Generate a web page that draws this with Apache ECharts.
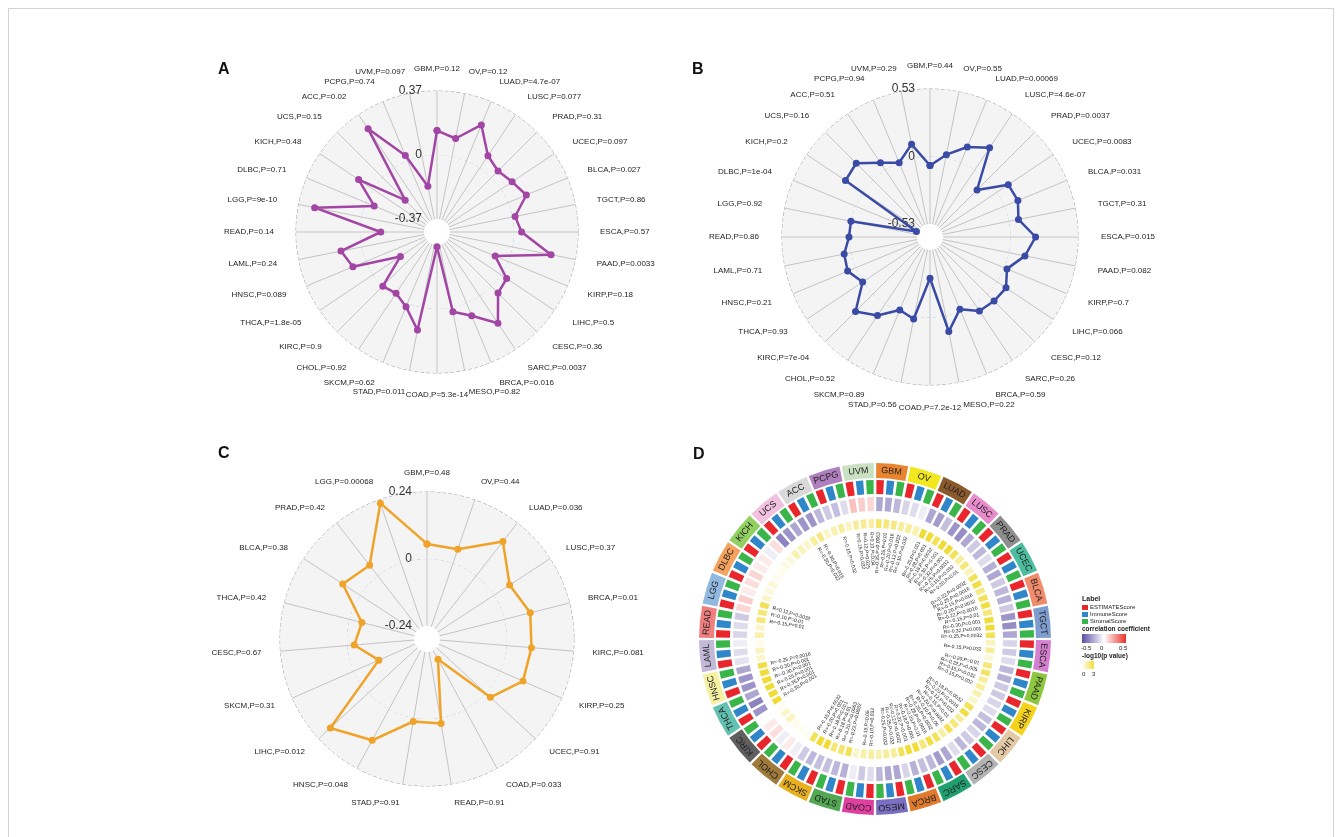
<!DOCTYPE html>
<html>
<head>
<meta charset="utf-8">
<script src="https://cdn.jsdelivr.net/npm/echarts@6/dist/echarts.min.js"></script>
<style>
  html, body { margin: 0; padding: 0; background: #fff; }
  #frame { position: absolute; left: 8px; top: 8px; width: 1326px; height: 860px; border: 1px solid #d4d4d4; box-sizing: border-box; }
  #main { position: absolute; left: 0; top: 0; width: 1342px; height: 837px; }
</style>
</head>
<body>
<div id="frame"></div>
<div id="main"></div>
<script>
// ---- panel A / B : 32 cancer types, same order ----
const abNames = ['GBM', 'OV', 'LUAD', 'LUSC', 'PRAD', 'UCEC', 'BLCA', 'TGCT', 'ESCA', 'PAAD', 'KIRP', 'LIHC', 'CESC', 'SARC', 'BRCA', 'MESO',
  'COAD', 'STAD', 'SKCM', 'CHOL', 'KIRC', 'THCA', 'HNSC', 'LAML', 'READ', 'LGG', 'DLBC', 'KICH', 'UCS', 'ACC', 'PCPG', 'UVM'];

const aP = ['0.12', '0.12', '4.7e-07', '0.077', '0.31', '0.097', '0.027', '0.86', '0.57', '0.0033', '0.18', '0.5', '0.36', '0.0037', '0.016', '0.82',
  '5.3e-14', '0.011', '0.62', '0.92', '0.9', '1.8e-05', '0.089', '0.24', '0.14', '9e-10', '0.71', '0.48', '0.15', '0.02', '0.74', '0.097'];
const aR = [0.141, 0.106, 0.225, 0.085, 0.054, 0.077, 0.114, 0.015, 0.044, 0.227, -0.081, 0.039, 0.054, 0.189, 0.079, 0.025,
  -0.36, 0.133, 0.023, -0.019, -0.002, -0.191, 0.081, 0.121, -0.12, 0.276, -0.052, 0.100, -0.185, 0.272, 0.033, -0.175];
const aMax = 0.37;

const bP = ['0.44', '0.55', '0.00069', '4.6e-07', '0.0037', '0.0083', '0.031', '0.31', '0.015', '0.082', '0.7', '0.066', '0.12', '0.26', '0.59', '0.22',
  '7.2e-12', '0.56', '0.89', '0.52', '7e-04', '0.93', '0.21', '0.71', '0.86', '0.92', '1e-04', '0.2', '0.16', '0.51', '0.94', '0.29'];
const bR = [-0.071, 0.027, 0.133, 0.210, -0.11, 0.107, 0.115, 0.076, 0.197, 0.128, 0.022, 0.086, 0.079, 0.066, -0.019, 0.125,
  -0.308, 0.025, -0.012, 0.110, 0.195, 0.004, 0.068, 0.055, 0.004, 0.001, -0.517, 0.166, 0.187, 0.068, 0.0, 0.110];
const bMax = 0.53;

// ---- panel C : 19 cancer types ----
const cNames = ['GBM', 'OV', 'LUAD', 'LUSC', 'BRCA', 'KIRC', 'KIRP', 'UCEC', 'COAD', 'READ', 'STAD', 'HNSC', 'LIHC', 'SKCM', 'CESC', 'THCA', 'BLCA', 'PRAD', 'LGG'];
const cP = ['0.48', '0.44', '0.036', '0.37', '0.01', '0.081', '0.25', '0.91', '0.033', '0.91', '0.91', '0.048', '0.012', '0.31', '0.67', '0.42', '0.38', '0.42', '0.00068'];
const cR = [0.054, 0.053, 0.156, 0.067, 0.095, 0.089, 0.089, 0.022, -0.204, 0.020, 0.013, 0.126, 0.184, -0.098, -0.025, -0.046, 0.074, 0.048, 0.228];
const cMax = 0.24;

// ---- panel D : circular heatmap ----
const dTypes = abNames;
const dTypeColors = ['#e8852e', '#f1e81f', '#8a5a2c', '#e98ccb', '#8e8e8e', '#4dbd9f', '#f08b6b', '#7f9ccf', '#d47fcf', '#8dc63f', '#f5d21b', '#e3c9a6',
  '#b3b3b3', '#1fa06f', '#e07a2f', '#7a6fc0', '#e03fa0', '#52a852', '#e8b01f', '#a07a3b', '#5f5f5f', '#62c1b0', '#f5f0a2', '#c2b9d9',
  '#f08080', '#92b9e0', '#f6a25f', '#92d062', '#f1c1df', '#d9d9d9', '#b07fc0', '#c9e1c0'];
const dScores = ['ESTIMATEScore', 'ImmuneScore', 'StromalScore'];
const dScoreColors = ['#e8262b', '#2f87c9', '#39b54a'];
const dCorrEstimate = [-0.25, -0.12, -0.25, -0.30, -0.15, -0.22, -0.20, -0.30, -0.12, -0.20, -0.15, -0.18, -0.15, -0.25, -0.18, -0.25,
  -0.10, -0.22, -0.18, -0.05, 0.08, -0.30, -0.30, -0.08, -0.12, 0.10, 0.08, 0.05, -0.35, -0.30, -0.15, 0.15];
const dCorrImmune = [-0.25, -0.10, -0.28, -0.32, -0.20, -0.25, -0.22, -0.32, -0.15, -0.22, -0.12, -0.20, -0.20, -0.28, -0.22, -0.25,
  -0.15, -0.20, -0.20, 0.05, 0.05, -0.35, -0.30, -0.10, -0.10, 0.12, 0.10, -0.05, -0.30, -0.30, -0.18, 0.12];
const dCorrStromal = [-0.20, -0.05, -0.18, -0.25, -0.10, -0.15, -0.15, -0.25, -0.10, -0.15, -0.10, -0.12, -0.10, -0.20, -0.12, -0.20,
  -0.05, -0.18, -0.15, -0.05, 0.00, -0.25, -0.25, -0.05, -0.15, 0.05, 0.05, 0.08, -0.25, -0.20, -0.10, 0.10];
const dLogPEstimate = [2.2, 1.5, 3, 3, 1.5, 2.5, 2.5, 3, 1.0, 2.0, 1.5, 2.5, 2.0, 2.5, 3, 1.5, 1.5, 2.5, 3, 0.2, 1.0, 3, 3, 0.8, 1.2, 2.0, 0.5, 0.3, 1.2, 1.5, 1.2, 1.5];
const dLogPImmune = [2.0, 1.5, 3, 3, 2.0, 2.8, 2.8, 3, 1.5, 2.3, 1.2, 2.8, 2.5, 2.8, 3, 1.5, 1.3, 2.2, 3, 0.2, 0.8, 3, 3, 1.0, 0.8, 2.5, 0.6, 0.4, 1.0, 1.8, 1.5, 1.6];
const dLogPStromal = [1.8, 1.2, 2.5, 2.5, 1.0, 1.8, 2.0, 2.5, 0.6, 1.5, 0.8, 1.5, 1.3, 2.0, 2.5, 1.2, 0.8, 2.0, 2.5, 0.3, 0.2, 3, 2.8, 0.3, 2.0, 0.8, 0.3, 0.5, 0.8, 0.8, 0.9, 1.4];

const corrTicks = ['-0.5', '0', '0.5'];
const logPTicks = ['0', '3'];

// ---------------------------------------------------------------
function mix(c1, c2, t) {
  const a = parseInt(c1.slice(1), 16), b = parseInt(c2.slice(1), 16);
  const ch = s => Math.round(((a >> s) & 255) * (1 - t) + ((b >> s) & 255) * t);
  return 'rgb(' + ch(16) + ',' + ch(8) + ',' + ch(0) + ')';
}
function corrColor(r) {
  const t = Math.max(-1, Math.min(1, r / 0.5));
  return t < 0 ? mix('#ffffff', '#5b4ea5', -t) : mix('#ffffff', '#e8322a', t);
}
function logPColor(lp) { return mix('#ffffff', '#f0dc35', Math.min(lp / 3, 1)); }
function fmtP(lp) { return String(parseFloat(Math.pow(10, -lp).toPrecision(2))); }

const polar = [], angleAxis = [], radiusAxis = [], series = [];

function addRadar(names, pvals, values, maxR, center, radius, color, margin) {
  const idx = polar.length;
  const n = names.length;
  polar.push({ center, radius });
  angleAxis.push({
    polarIndex: idx, type: 'value', min: 0, max: n, interval: 1, startAngle: 90, clockwise: true,
    axisLine: { show: false }, axisTick: { show: false }, axisLabel: { show: false },
    splitLine: { show: true, lineStyle: { color: '#c4c4c4', width: 1 } }
  });
  radiusAxis.push({
    polarIndex: idx, type: 'value', min: -maxR, max: maxR, interval: maxR,
    axisLine: { show: false }, axisTick: { show: false },
    axisLabel: { margin: 15, fontSize: 12, color: '#333', fontFamily: 'Liberation Sans', formatter: v => (Math.abs(v) < 1e-9 ? '0' : v.toFixed(2)) },
    splitLine: { show: true, lineStyle: { type: 'dashed', width: 1, color: ['rgba(0,0,0,0)', '#4a96a5', '#a5a5a5'] } },
    splitArea: { show: true, areaStyle: { color: ['#f4f4f4', '#f4f4f4'] } }
  });
  series.push({
    type: 'line', coordinateSystem: 'polar', polarIndex: idx,
    data: values.map((v, k) => [v, k]).concat([[values[0], n]]),
    symbol: 'circle', symbolSize: 7, showAllSymbol: true,
    lineStyle: { width: 2.5, color }, itemStyle: { color }, z: 5
  });
  // category labels: placed just outside the outer ring, aligned by side
  series.push({
    type: 'custom', coordinateSystem: 'polar', polarIndex: idx, silent: true,
    data: names.map((nm, k) => [maxR, k]),
    renderItem: (params, api) => {
      const p = api.coord([api.value(0), api.value(1)]);
      const cs = params.coordSys;
      const dx = p[0] - cs.cx, dy = p[1] - cs.cy;
      const len = Math.sqrt(dx * dx + dy * dy);
      const k = params.dataIndex;
      return {
        type: 'text',
        x: cs.cx + dx / len * (len + margin), y: cs.cy + dy / len * (len + margin),
        style: {
          text: names[k] + ',P=' + pvals[k], fontSize: 8, fill: '#1e1e1e', fontFamily: 'Liberation Sans',
          align: Math.abs(dx) < 1 ? 'center' : (dx > 0 ? 'left' : 'right'), verticalAlign: 'middle'
        }
      };
    }
  });
}

addRadar(abNames, aP, aR, aMax, [437, 232], [13, 141], '#a245a4', 22);
addRadar(abNames, bP, bR, bMax, [930, 237], [13, 148], '#3a4ba6', 23);
addRadar(cNames, cP, cR, cMax, [427, 639], [13, 147], '#efa328', 19);

// panel D rings
const dCenter = [875, 639];
const cells = [], cellLabel = [], cellCorr = [], cellLogP = [], notes = [];
dTypes.forEach((t, i) => {
  const corr = [dCorrEstimate[i], dCorrImmune[i], dCorrStromal[i]];
  const lp = [dLogPEstimate[i], dLogPImmune[i], dLogPStromal[i]];
  for (let s = 0; s < 3; s++) {
    const k = cells.length;
    cells.push(t + '-' + dScores[s]);
    cellLabel.push({ value: 1, itemStyle: { color: dScoreColors[s] } });
    cellCorr.push({ value: 1, itemStyle: { color: corrColor(corr[s]) } });
    cellLogP.push({ value: 1, itemStyle: { color: logPColor(lp[s]) } });
    if (lp[s] >= 1.3) notes.push({ cell: k, text: 'R=' + corr[s].toFixed(2) + ',P=' + fmtP(lp[s]) });
  }
});

function addRing(radius, cats, gap, data, label) {
  const idx = polar.length;
  polar.push({ center: dCenter, radius });
  angleAxis.push({ polarIndex: idx, type: 'category', data: cats, startAngle: 90, clockwise: true, show: false });
  radiusAxis.push({ polarIndex: idx, type: 'value', min: 0, max: 1, show: false });
  series.push({ type: 'bar', coordinateSystem: 'polar', polarIndex: idx, barCategoryGap: gap, data, label: label || { show: false }, silent: true });
  return idx;
}

addRing([161, 176], dTypes, '7%', dTypes.map((t, i) => ({ value: 1, itemStyle: { color: dTypeColors[i] } })),
  { show: true, position: 'insideEnd', distance: 3, fontSize: 9, color: '#222', fontFamily: 'Liberation Sans', formatter: '{b}' });
addRing([145, 159], cells, '28%', cellLabel);
addRing([128, 142], cells, '28%', cellCorr);
addRing([111, 120], cells, '28%', cellLogP);

const tIdx = polar.length;
polar.push({ center: dCenter, radius: [40, 107] });
angleAxis.push({ polarIndex: tIdx, type: 'category', data: cells, startAngle: 90, clockwise: true, show: false });
radiusAxis.push({ polarIndex: tIdx, type: 'value', min: 0, max: 1, show: false });
series.push({
  type: 'custom', coordinateSystem: 'polar', polarIndex: tIdx, silent: true,
  data: notes.map(n => [1, n.cell]),
  renderItem: (params, api) => {
    const p = api.coord([api.value(0), api.value(1)]);
    const cs = params.coordSys;
    const ang = Math.atan2(p[1] - cs.cy, p[0] - cs.cx);
    const right = Math.cos(ang) >= -1e-6;
    return {
      type: 'text', x: p[0], y: p[1], rotation: right ? -ang : -(ang + Math.PI),
      style: { text: notes[params.dataIndex].text, fontSize: 5, fill: '#222', fontFamily: 'Liberation Sans', align: right ? 'right' : 'left', verticalAlign: 'middle' }
    };
  }
});

// legend of panel D and panel letters
const lg = { x: 1082, y: 600 };
const legend = [
  { type: 'text', left: lg.x, top: lg.y - 4, style: { text: 'Label', fontSize: 7, fontWeight: 'bold', fill: '#222', fontFamily: 'Liberation Sans' } },
  { type: 'text', left: lg.x, top: lg.y + 26, style: { text: 'correlation coefficient', fontSize: 6.5, fontWeight: 'bold', fill: '#222', fontFamily: 'Liberation Sans' } },
  { type: 'rect', left: lg.x, top: lg.y + 34, shape: { width: 44, height: 9 },
    style: { fill: new echarts.graphic.LinearGradient(0, 0, 1, 0, [{ offset: 0, color: '#5b4ea5' }, { offset: 0.5, color: '#ffffff' }, { offset: 1, color: '#e8322a' }]) } },
  { type: 'text', left: lg.x, top: lg.y + 53, style: { text: '-log10(p value)', fontSize: 6.5, fontWeight: 'bold', fill: '#222', fontFamily: 'Liberation Sans' } },
  { type: 'rect', left: lg.x, top: lg.y + 61, shape: { width: 12, height: 8 },
    style: { fill: new echarts.graphic.LinearGradient(0, 0, 1, 0, [{ offset: 0, color: '#ffffff' }, { offset: 1, color: '#f0dc35' }]) } }
];
dScores.forEach((s, i) => {
  legend.push({ type: 'rect', left: lg.x, top: lg.y + 5 + i * 7, shape: { width: 6, height: 5 }, style: { fill: dScoreColors[i] } });
  legend.push({ type: 'text', left: lg.x + 8, top: lg.y + 4 + i * 7, style: { text: s, fontSize: 6, fill: '#222', fontFamily: 'Liberation Sans' } });
});
corrTicks.forEach((t, i) => {
  legend.push({ type: 'text', left: lg.x - 1 + i * 19, top: lg.y + 45, style: { text: t, fontSize: 6, fill: '#222', fontFamily: 'Liberation Sans' } });
});
logPTicks.forEach((t, i) => {
  legend.push({ type: 'text', left: lg.x + i * 10, top: lg.y + 71, style: { text: t, fontSize: 6, fill: '#222', fontFamily: 'Liberation Sans' } });
});
[['A', 218, 62], ['B', 692, 62], ['C', 218, 446], ['D', 693, 447]].forEach(l => {
  legend.push({ type: 'text', left: l[1], top: l[2], style: { text: l[0], fontSize: 16, fontWeight: 'bold', fill: '#111', fontFamily: 'Liberation Sans' } });
});

const chart = echarts.init(document.getElementById('main'));
chart.setOption({
  animation: false,
  polar, angleAxis, radiusAxis, series,
  graphic: legend
});
</script>
</body>
</html>
